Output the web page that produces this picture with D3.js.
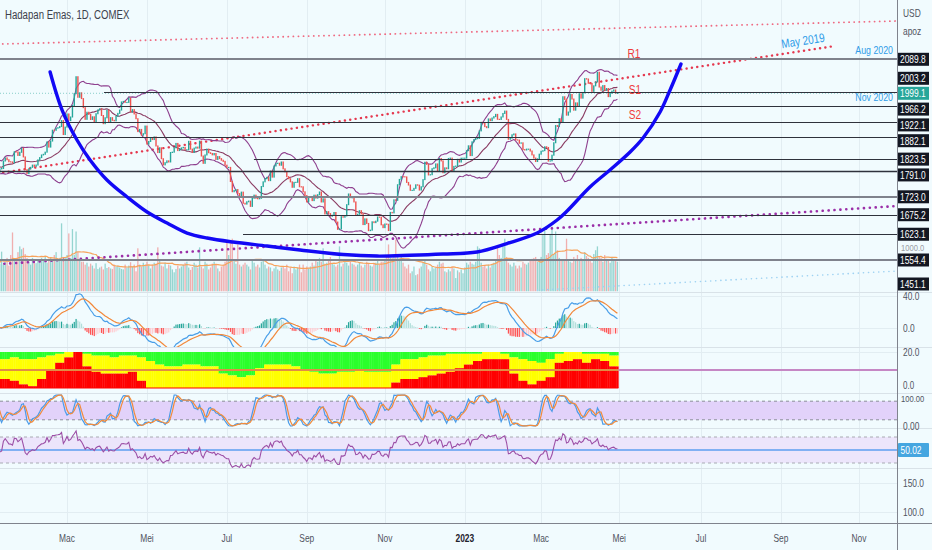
<!DOCTYPE html>
<html><head><meta charset="utf-8">
<script src="https://cdn.jsdelivr.net/npm/d3@7"></script>
<style>html,body{margin:0;padding:0;background:#f1fbfe}svg{display:block}text{font-family:"Liberation Sans",Arial,sans-serif}</style>
</head><body>
<svg id="c" width="932" height="550"></svg>
<script>
// ===== DATA (daily closes, Mon-Fri rows, from 3 Jan 2022) =====
const closes = [
1800.1,1814.6,1810.7,1789.7,1797.4, 1798.4,1818.5,1826.8,1821.9,1816.5, 1816.0,1813.6,1843.2,1842.6,1833.3,
1841.7,1852.6,1829.4,1795.5,1784.9, 1797.4,1801.6,1807.6,1804.1,1807.8, 1821.5,1827.6,1834.6,1836.4,1842.1,
1869.4,1855.6,1871.7,1900.7,1900.4, 1906.0,1907.5,1910.4,1926.3,1889.1, 1908.9,1944.0,1926.2,1935.9,1966.6,
1998.1,2043.3,1988.5,2000.4,1985.0, 1960.8,1929.7,1948.6,1942.8,1929.3, 1936.4,1921.5,1944.6,1954.6,1957.8,
1939.8,1918.1,1933.8,1954.0,1923.7, 1934.1,1927.0,1925.7,1937.6,1945.6, 1954.4,1976.1,1977.5,1974.9,1974.9,
1986.4,1949.1,1955.5,1944.1,1931.3, 1896.9,1902.8,1887.4,1891.3,1911.7, 1863.6,1870.6,1881.0,1875.7,1882.8,
1858.6,1841.0,1853.7,1824.6,1808.2, 1814.0,1818.9,1815.9,1841.2,1842.1, 1853.7,1865.4,1846.3,1850.2,1853.5,
1855.0,1848.4,1848.7,1871.1,1850.2, 1841.2,1852.8,1855.6,1852.8,1871.5, 1831.8,1812.3,1834.6,1850.3,1840.6,
1838.6,1834.9,1838.5,1822.7,1830.3, 1824.8,1820.6,1817.5,1807.3,1801.5, 1801.5,1763.9,1736.5,1739.7,1742.3,
1731.7,1725.8,1735.5,1705.8,1703.6, 1709.7,1711.5,1697.4,1719.1,1727.4, 1719.1,1717.7,1719.1,1750.3,1762.9,
1771.1,1774.9,1766.1,1791.7,1775.5, 1805.2,1812.3,1812.6,1807.2,1815.9, 1797.6,1789.7,1776.7,1771.2,1762.9,
1748.4,1761.5,1761.7,1771.4,1749.8, 1749.7,1736.3,1726.2,1709.3,1721.8, 1722.0,1712.8,1727.3,1719.5,1728.6,
1735.9,1709.2,1717.6,1677.3,1683.5, 1678.2,1671.1,1673.9,1681.1,1655.6, 1636.2,1637.3,1670.0,1668.6,1672.0,
1702.0,1730.5,1720.8,1720.8,1709.3, 1675.0,1676.4,1686.0,1677.5,1648.9, 1664.0,1652.0,1632.7,1634.0,1656.3,
1654.1,1658.0,1669.0,1668.6,1648.3, 1640.7,1650.4,1649.7,1633.0,1681.4, 1680.1,1715.0,1713.6,1755.2,1769.4,
1776.7,1776.6,1776.0,1761.4,1754.4, 1740.3,1740.3,1745.6,1755.0,1754.0, 1741.0,1749.7,1768.8,1815.2,1809.6,
1781.3,1782.0,1798.0,1800.4,1810.7, 1792.3,1825.2,1818.7,1787.2,1800.2, 1797.8,1825.3,1826.2,1793.2,1804.2,
1805.0,1823.1,1815.8,1826.0,1826.2, 1826.2,1846.1,1859.0,1833.0,1869.7, 1875.6,1877.9,1878.9,1898.8,1921.7,
1920.0,1910.2,1907.4,1930.7,1926.2, 1933.1,1936.9,1942.9,1929.8,1929.4, 1936.0,1945.3,1951.7,1929.5,1876.6,
1879.6,1888.4,1890.7,1875.0,1874.3, 1865.9,1866.9,1849.0,1847.8,1850.2, 1850.2,1845.1,1834.8,1826.3,1817.1,
1824.4,1836.7,1844.5,1846.1,1856.5, 1854.6,1818.2,1818.9,1834.0,1867.2, 1913.0,1910.7,1931.3,1923.0,1989.9,
1982.8,1940.8,1949.1,1995.9,1983.8, 1954.1,1973.5,1964.3,1997.7,1986.2, 2000.4,2038.2,2037.1,2025.9,2025.5,
2004.3,2019.0,2029.4,2055.3,2015.8, 2007.2,2019.7,2007.3,2011.9,1990.2, 1999.2,2004.9,2008.0,1999.0,1999.1
];
const volumes = [
700,520,600,640,580, 830,560,620,700,540, 760,1230,640,690,820, 940,880,910,780,700, 620,560,700,600,590,
650,620,700,640,720, 600,660,700,640,760, 820,660,700,1420,720, 700,760,1210,700,1300, 760,1250,820,660,620,
620,560,600,520,580, 540,480,590,470,500, 520,460,580,490,510, 480,470,560,520,540, 500,470,460,560,500,
540,610,520,560,420, 900,560,520,600,560, 620,540,480,560,600, 580,920,660,540,520, 600,480,560,540,460,
400,470,540,480,520, 560,600,620,500,450, 510,600,560,500,920, 520,480,620,580,460, 500,580,620,560,480,
420,520,560,620,1040, 760,1060,1100,640,580, 980,560,520,560,600, 560,520,460,640,600, 520,560,500,620,640,
560,480,520,500,420, 480,520,460,430,500, 520,480,560,420,500, 380,520,460,500,560, 400,560,460,520,480,
520,600,540,640,620, 700,620,900,580,600, 640,720,580,560,520, 560,940,520,580,620, 600,540,620,580,560,
520,560,600,540,500, 560,620,580,540,520, 580,600,640,560,620, 620,680,760,980,700, 700,760,1080,720,680,
760,600,520,480,560, 380,420,520,340,360, 480,520,600,640,560, 460,420,520,480,500, 560,620,580,600,420,
400,460,420,520,480, 280,440,400,460,380, 500,600,560,620,580, 560,620,940,900,600, 520,540,480,560,500,
560,600,640,940,760, 700,960,1100,720,600, 560,520,600,540,480, 540,500,620,580,560, 600,640,680,700,720,
620,660,720,1200,1300, 760,800,1200,1350,780, 1250,860,700,660,640, 640,1100,640,620,600, 720,680,760,640,700,
660,820,740,700,640, 600,780,860,940,720, 700,620,760,680,640, 600,720,680,640,620
];
// weekly values of the trend-strength pane (red and yellow layers, 0-20 scale)
const trendRed = [5,5,4,2,1,5,10,14,17,20,12,9,8,8,8,9,4,
 0,0,0,0,0,0,0,0,0,0,0,0,0,0,0,0,0,0,0,0,0,0,0,0,0,0,0,
 3,5,5,6,7,8,9,11,13,15,16,16,16,8,4,2,4,6,14,15,16,14,16,15,12];
const trendYellow = [16,16,17,16,16,17,18,19,20,20,19,18,18,17,18,18,17,15,13,12,12,13,13,12,12,
 8,7,6,7,11,13,13,13,12,10,9,8,8,9,9,10,9,9,9,13,16,16,17,18,18,19,19,19,19,20,20,19,17,16,15,14,16,19,20,20,19,19,19,18];

// horizontal levels drawn on the chart
const levelPrices   = [2089.8, 2003.2, 1966.2, 1922.1, 1882.1, 1823.5, 1791.0, 1723.0, 1675.2, 1623.1, 1554.4, 1451.1];
const levelStartBar = [0, 61.4, 0, 0, 0, 143.9, 0, 0, 0, 137.9, 0, 0];

// month ticks
const tickDates  = ['2022-03-01','2022-05-01','2022-07-01','2022-09-01','2022-11-01','2023-01-01','2023-03-01','2023-05-01','2023-07-01','2023-09-01','2023-11-01'];
const tickLabels = ['Mac','Mei','Jul','Sep','Nov','2023','Mac','Mei','Jul','Sep','Nov'];

// hand-drawn cup curve (bar index, price)
const cupBars   = [31.7,38.3,46.5,53.7,63.0,74.1,85.1,96.1,107.1,118.1,132.4,151.1,169.3,193.0,211.7,229.8,248.0,266.7,283.2,299.8,310.8,316.3,328.9,339.9,351.0,358.1,367.5,373.0,379.0];
const cupPrices = [2055.9,1954.5,1874.5,1821.1,1767.8,1722.4,1682.4,1653.0,1626.3,1613.0,1602.3,1591.6,1581.0,1568.9,1564.9,1566.9,1570.3,1575.7,1598.4,1626.4,1661.1,1685.1,1749.1,1794.5,1842.5,1879.8,1949.2,2007.9,2077.3];

// trend lines (bar index, price)
const topLineBars = [0, 500],     topLinePrices = [2130.1, 2192.3];
const mayLineBars = [0, 463.8],   mayLinePrices = [1783.5, 2125.3];
const purpleBars  = [0, 500],     purplePrices  = [1542.4, 1699.1];
const blueLineBars= [300, 500],   blueLinePrices= [1473.9, 1525.5];

// text annotations
const noteTexts  = ['R1','S1','S2'];
const noteBars   = [353.1, 353.7, 353.7];
const notePrices = [2106.6, 2008.0, 1941.4];
const blueNotes      = ['Aug 2020','Nov 2020'];
const blueNoteBars   = [495.7, 495.7];
const blueNotePrices = [2114.6, 1989.2];
const mayText = 'May 2019', mayTextBar = 446.2, mayTextPrice = 2138.6;

// ===== SETUP =====
const svg = d3.select('#c');
const W = 932, H = 550, PR = 897;
const n = closes.length;
const bars = [];
{ let d = new Date(2022,0,3); while (bars.length < 560) { const wd = d.getDay(); if (wd>0 && wd<6) bars.push(new Date(d)); d.setDate(d.getDate()+1); } }
const barOf = s => { const t = new Date(s+'T00:00:00'); return bars.findIndex(b => b >= t); };

const xs = d3.scaleLinear().domain([barOf('2022-03-01'), barOf('2023-11-01')]).range([67, 859]);
const ys = d3.scaleLinear().domain([1554.4, 2089.8]).range([260, 59.3]);
const yv = d3.scaleLinear().domain([0, 1000]).range([291.5, 243.5]);
const ym = d3.scaleLinear().domain([0, 40]).range([328, 296]);
const yt = d3.scaleLinear().domain([0, 20]).range([388, 352]);
const yst = d3.scaleLinear().domain([0, 100]).range([426, 395]);
const yr = d3.scaleLinear().domain([30, 70]).range([463, 437]);
const yb = d3.scaleLinear().domain([100, 150]).range([512, 483]);

const panes = {main:[0,291.5], macd:[292,347], trend:[347,393], stoch:[393,428], rsi:[428,468], bot:[468,523]};
const defs = svg.append('defs');
Object.entries(panes).forEach(([k,[a,b]]) => defs.append('clipPath').attr('id','cp-'+k).append('rect').attr('x',0).attr('y',a).attr('width',PR).attr('height',b-a));

// ===== INDICATORS =====
const opens = closes.map((c,i) => i ? closes[i-1] : c);
const win = (a,i,p) => a.slice(Math.max(0,i-p+1), i+1);
const sma = (a,p) => a.map((_,i) => d3.mean(win(a,i,p)));
const sdev = (a,p) => a.map((_,i) => { const s = win(a,i,p), m = d3.mean(s); return Math.sqrt(d3.mean(s, v => (v-m)**2)); });
const ema = (a,p) => { const k = 2/(p+1); let e = a[0]; return a.map((v,i) => e = i ? v*k + e*(1-k) : v); };
const basis = sma(closes,20), sd = sdev(closes,20);
const bbUp = basis.map((b,i) => b + 2*sd[i]), bbLo = basis.map((b,i) => b - 2*sd[i]);
const e12 = ema(closes,12), e26 = ema(closes,26);
const macd = e12.map((v,i) => v - e26[i]), sig = ema(macd,9), hist = macd.map((v,i) => v - sig[i]);
function rsiCalc(a,p){ const out=[50]; let ag=0, al=0; for(let i=1;i<a.length;i++){ const d=a[i]-a[i-1], g=Math.max(d,0), l=Math.max(-d,0), m=Math.min(i,p); ag=(ag*(m-1)+g)/m; al=(al*(m-1)+l)/m; out.push(al===0?100:100-100/(1+ag/al)); } return out; }
const rsi = rsiCalc(closes,14);
const kraw = rsi.map((v,i) => { const s = win(rsi,i,14), lo = d3.min(s), hi = d3.max(s); return hi>lo ? (v-lo)/(hi-lo)*100 : 50; });
const stK = sma(kraw,3), stD = sma(stK,3);
const volMA = sma(volumes,20);

// ===== BACKGROUND & GRID =====
svg.append('rect').attr('width',W).attr('height',H).attr('fill','#f1fbfe');
const tickBars = tickDates.map(barOf);
svg.append('g').selectAll('line').data(tickBars).join('line')
  .attr('x1',d=>Math.round(xs(d))+0.5).attr('x2',d=>Math.round(xs(d))+0.5).attr('y1',0).attr('y2',523)
  .attr('stroke','#e2edf2').attr('stroke-width',1);
const gridY = [ym(40), ym(0), yt(20), yb(150), yb(100)];
svg.append('g').selectAll('line').data(gridY).join('line')
  .attr('x1',0).attr('x2',PR).attr('y1',d=>Math.round(d)+0.5).attr('y2',d=>Math.round(d)+0.5).attr('stroke','#e2edf2');
[291.5, 347, 393, 428, 468].forEach(y => svg.append('line').attr('x1',0).attr('x2',W).attr('y1',Math.round(y)+0.5).attr('y2',Math.round(y)+0.5).attr('stroke','#d9e2e8'));

// ===== MAIN PANE =====
const gm = svg.append('g').attr('clip-path','url(#cp-main)');
const up = i => closes[i] >= opens[i];
const vols = d3.range(n);
gm.append('g').selectAll('rect').data(vols).join('rect')
  .attr('x',i=>xs(i)-0.65).attr('width',1.3).attr('y',i=>yv(volumes[i])).attr('height',i=>yv(0)-yv(volumes[i]))
  .attr('fill',i=>up(i)?'rgba(38,166,154,0.45)':'rgba(239,83,80,0.45)');
gm.append('path').datum(volMA).attr('fill','none').attr('stroke','#f7a35c').attr('stroke-width',1.2)
  .attr('d',d3.line().x((d,i)=>xs(i)).y(d=>yv(d)));

// trend lines
const seg = (b,p) => d3.line()([[xs(b[0]),ys(p[0])],[xs(b[1]),ys(p[1])]]);
gm.append('path').attr('d',seg(blueLineBars,blueLinePrices)).attr('stroke','#9fd2f2').attr('stroke-width',1.6).attr('stroke-linecap','round').attr('stroke-dasharray','0.1 5').attr('fill','none');
gm.append('path').attr('d',seg(purpleBars,purplePrices)).attr('stroke','#9b2fa8').attr('stroke-width',2.6).attr('stroke-linecap','round').attr('stroke-dasharray','0.1 5.8').attr('fill','none');
gm.append('path').attr('d',seg(topLineBars,topLinePrices)).attr('stroke','#ef6a82').attr('stroke-width',1.8).attr('stroke-linecap','round').attr('stroke-dasharray','0.1 5').attr('fill','none');
gm.append('path').attr('d',seg(mayLineBars,mayLinePrices)).attr('stroke','#e5384f').attr('stroke-width',2.4).attr('stroke-linecap','round').attr('stroke-dasharray','0.1 5.3').attr('fill','none');

// Bollinger bands
const lineI = (arr, sc) => d3.line().x((d,i)=>xs(i)).y(d=>sc(d))(arr);
gm.append('path').attr('d',lineI(bbUp,ys)).attr('fill','none').attr('stroke','#8e3f8e').attr('stroke-width',1.1);
gm.append('path').attr('d',lineI(bbLo,ys)).attr('fill','none').attr('stroke','#8e3f8e').attr('stroke-width',1.1);
gm.append('path').attr('d',lineI(basis,ys)).attr('fill','none').attr('stroke','#8a3b62').attr('stroke-width',1.1);

// candles
gm.append('g').selectAll('rect').data(vols).join('rect')
  .attr('x',i=>xs(i)-0.7).attr('width',1.4)
  .attr('y',i=>ys(Math.max(opens[i],closes[i]))-0.5)
  .attr('height',i=>Math.max(1.2, Math.abs(ys(opens[i])-ys(closes[i]))+1))
  .attr('fill',i=>up(i)?'#26a69a':'#ef5350');

// current price line
const last = closes[n-1];
gm.append('line').attr('x1',0).attr('x2',PR).attr('y1',ys(last)).attr('y2',ys(last)).attr('stroke','#26a69a').attr('stroke-opacity',0.5).attr('stroke-dasharray','1 2');

// level lines
const thick = new Set([0,7,10]);
levelPrices.forEach((p,i) => {
  const y = Math.round(ys(p)) + (thick.has(i)?0:0.5);
  gm.append('line').attr('x1',xs(levelStartBar[i])).attr('x2',PR).attr('y1',y).attr('y2',y)
    .attr('stroke', thick.has(i)?'#7f828c':'#2f323c').attr('stroke-width', thick.has(i)?2:(i===6?1.5:1));
});

// cup curve
gm.append('path').datum(cupBars.map((b,i)=>[xs(b),ys(cupPrices[i])]))
  .attr('d',d3.line().curve(d3.curveCatmullRom.alpha(0.5))).attr('fill','none').attr('stroke','#1208f5').attr('stroke-width',3.4).attr('stroke-linecap','round');

// ===== MACD PANE =====
const gmac = svg.append('g').attr('clip-path','url(#cp-macd)');
gmac.append('g').selectAll('rect').data(vols).join('rect')
  .attr('x',i=>xs(i)-0.6).attr('width',1.2)
  .attr('y',i=>Math.min(ym(hist[i]),ym(0))).attr('height',i=>Math.abs(ym(hist[i])-ym(0)))
  .attr('fill',i=>{ const h=hist[i], p=i?hist[i-1]:h; return h>=0 ? (h>=p?'#26a69a':'#b2dfdb') : (h<=p?'#ff5252':'#ffcdd2'); });
gmac.append('path').attr('d',lineI(macd,ym)).attr('fill','none').attr('stroke','#4a9fe8').attr('stroke-width',1.2);
gmac.append('path').attr('d',lineI(sig,ym)).attr('fill','none').attr('stroke','#f2883a').attr('stroke-width',1.2);

// ===== TREND PANE =====
const gt = svg.append('g').attr('clip-path','url(#cp-trend)');
const step = xs(1)-xs(0);
vols.forEach(i => {
  const w = Math.floor(i/5), r = trendRed[w], yl = trendYellow[w], x = xs(i)-step/2, ww = step+0.35;
  gt.append('rect').attr('x',x).attr('width',ww).attr('y',yt(20)).attr('height',yt(yl)-yt(20)).attr('fill','#2bff2b');
  gt.append('rect').attr('x',x).attr('width',ww).attr('y',yt(yl)).attr('height',yt(r)-yt(yl)).attr('fill','#ffff00');
  if (r>0) gt.append('rect').attr('x',x).attr('width',ww).attr('y',yt(r)).attr('height',yt(0)-yt(r)).attr('fill','#ff0000');
});
gt.append('line').attr('x1',0).attr('x2',PR).attr('y1',yt(10)).attr('y2',yt(10)).attr('stroke','#c587c4').attr('stroke-width',2);
gt.append('line').attr('x1',0).attr('x2',xs(n-1)+1).attr('y1',yt(10)).attr('y2',yt(10)).attr('stroke','#e08c45').attr('stroke-width',2);
gt.append('line').attr('x1',0).attr('x2',xs(n-1)+1).attr('y1',yt(0)).attr('y2',yt(0)).attr('stroke','#ff0000').attr('stroke-width',1.2);

// ===== STOCH RSI PANE =====
const gs = svg.append('g').attr('clip-path','url(#cp-stoch)');
gs.append('rect').attr('x',0).attr('width',PR).attr('y',yst(80)).attr('height',yst(20)-yst(80)).attr('fill','#e2d2fa');
[80,20].forEach(v => gs.append('line').attr('x1',0).attr('x2',PR).attr('y1',yst(v)).attr('y2',yst(v)).attr('stroke','#8c8f99').attr('stroke-dasharray','3 3'));
gs.append('path').attr('d',lineI(stK,yst)).attr('fill','none').attr('stroke','#4a9be8').attr('stroke-width',1.2);
gs.append('path').attr('d',lineI(stD,yst)).attr('fill','none').attr('stroke','#f28b3a').attr('stroke-width',1.2);

// ===== RSI PANE =====
const gr = svg.append('g').attr('clip-path','url(#cp-rsi)');
gr.append('rect').attr('x',0).attr('width',PR).attr('y',yr(70)).attr('height',yr(30)-yr(70)).attr('fill','#ece5fb');
[70,30].forEach(v => gr.append('line').attr('x1',0).attr('x2',PR).attr('y1',yr(v)).attr('y2',yr(v)).attr('stroke','#a8aab2').attr('stroke-dasharray','3 3'));
gr.append('line').attr('x1',0).attr('x2',PR).attr('y1',yr(50)).attr('y2',yr(50)).attr('stroke','#5c9ef0').attr('stroke-width',1.5);
gr.append('path').attr('d',lineI(rsi,yr)).attr('fill','none').attr('stroke','#9c4fa6').attr('stroke-width',1.1);

// ===== AXES =====
svg.append('line').attr('x1',PR+0.5).attr('x2',PR+0.5).attr('y1',0).attr('y2',H).attr('stroke','#80838d');
svg.append('line').attr('x1',0).attr('x2',W).attr('y1',523.5).attr('y2',523.5).attr('stroke','#80838d');

const cond = [];
const T = (x,y,s,o={}) => { const t = svg.append('text').attr('x',x).attr('y',y).text(s)
  .attr('font-size',o.size||10.5).attr('fill',o.fill||'#50535e').attr('text-anchor',o.anchor||'start')
  .attr('dominant-baseline','central').attr('font-weight',o.weight||400); cond.push([t,o.f||0.8]); return t; };

// lower-pane axis labels
T(901, yv(1000)+4, '1000.0', {fill:'#9a9ca4', size:9.5});
T(903, ym(40), '40.0'); T(903, ym(0), '0.0');
T(903, yt(20), '20.0'); T(903, yt(0)-3, '0.0', {size:10});
T(901, yst(100)+3, '100.00', {size:9.5}); T(903, yst(0), '0.00');
T(903, yb(150), '150.0'); T(903, yb(100), '100.0');
svg.append('rect').attr('x',898).attr('y',yr(50)-7).attr('width',31).attr('height',14).attr('fill','#45a6e0').attr('rx',1);
T(900.5, yr(50), '50.02', {fill:'#ffffff'});

// price labels with collision push
const labs = levelPrices.map(p => ({p, y:ys(p), bg:'#131722'}));
labs.push({p:last, y:ys(last), bg:'#26a69a', cur:true});
labs.sort((a,b) => a.y - b.y);
const ai = labs.findIndex(d => d.cur);
for (let i=ai+1;i<labs.length;i++) labs[i].y = Math.max(labs[i].y, labs[i-1].y+15.8);
for (let i=ai-1;i>=0;i--) labs[i].y = Math.min(labs[i].y, labs[i+1].y-15);
labs.forEach(d => { d.y = Math.min(d.y, 284); });
labs.forEach(d => {
  svg.append('rect').attr('x',898).attr('y',d.y-6.5).attr('width',31).attr('height',13).attr('fill',d.bg);
  T(900, d.y, d.p.toFixed(1), {fill:'#ffffff'});
});
T(903, 13, 'USD'); T(903, 31, 'apoz');

// month labels
tickBars.forEach((b,i) => T(xs(b), 538, tickLabels[i], {anchor:'middle', fill: tickLabels[i]==='2023'?'#1e222d':'#50535e', weight: tickLabels[i]==='2023'?600:400}));

// title
T(5, 15, 'Hadapan Emas, 1D, COMEX', {size:12, fill:'#3c404b', f:0.8});

// annotations
noteTexts.forEach((s,i) => T(xs(noteBars[i]), ys(notePrices[i]), s, {size:13, fill:'#ef3b3b', anchor:'middle', f:0.78}));
blueNotes.forEach((s,i) => T(xs(blueNoteBars[i]), ys(blueNotePrices[i]), s, {size:11, fill:'#2f9be8', anchor:'end', f:0.8}));
const ang = Math.atan2(ys(mayLinePrices[1])-ys(mayLinePrices[0]), xs(mayLineBars[1])-xs(mayLineBars[0]))*180/Math.PI;
T(xs(mayTextBar), ys(mayTextPrice), mayText, {size:12.5, fill:'#2f9be8', anchor:'middle', f:0.8})
  .attr('transform',`rotate(${ang},${xs(mayTextBar)},${ys(mayTextPrice)})`);

// condense text horizontally (chart font is narrow)
cond.forEach(([t,f]) => { const L = t.node().getComputedTextLength(); t.attr('textLength', L*f).attr('lengthAdjust','spacingAndGlyphs'); });
</script>
</body></html>
